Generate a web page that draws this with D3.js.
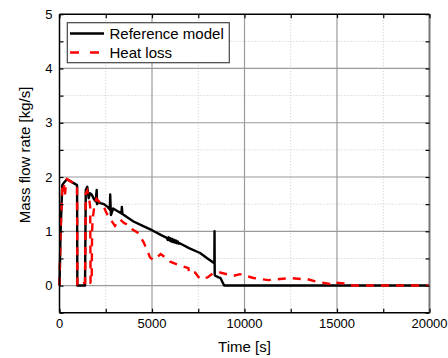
<!DOCTYPE html>
<html>
<head>
<meta charset="utf-8">
<script src="https://cdn.jsdelivr.net/npm/d3@7"></script>
<style>
    body { margin: 0; background: #fff; }
    svg { display: block; font-family: Arial, "Liberation Sans", Helvetica, sans-serif; }
    .tick-label { font-size: 13px; fill: #000; }
    .axis-title { font-size: 15px; fill: #000; }
    .legend-text { font-size: 15px; fill: #000; }
</style>
</head>
<body>
<svg id="chart"></svg>
<script>
// Reference model series (time in s, mass flow in kg/s)
const refTime = [0, 60, 150, 250, 400, 600, 950, 965, 1380, 1420, 1500, 1580, 1650, 1740, 1850, 1950, 2010, 2030, 2100, 2200, 2400, 2600,
    2720, 2740, 2780, 2900, 3100, 3350, 3370, 3400, 3700, 4000, 4500, 5000, 5500, 5800, 5850, 5900, 5950, 6000, 6050, 6100, 6150, 6200,
    6250, 6300, 6350, 6400, 6450, 6500, 7000, 7600, 8000, 8370, 8380, 8390, 8420, 8600, 8700, 8900, 20000];
const refFlow = [0, 1.0, 1.85, 1.9, 1.96, 1.92, 1.85, 0, 0, 1.76, 1.82, 1.61, 1.7, 1.68, 1.6, 1.55, 1.76, 1.5, 1.55, 1.52, 1.5, 1.45,
    1.4, 1.68, 1.3, 1.42, 1.38, 1.33, 1.45, 1.32, 1.25, 1.18, 1.1, 1.02, 0.93, 0.88, 0.84, 0.89, 0.83, 0.87, 0.81, 0.86, 0.8, 0.84,
    0.79, 0.83, 0.78, 0.81, 0.77, 0.78, 0.69, 0.6, 0.5, 0.41, 1.0, 0.2, 0.18, 0.15, 0.14, 0.0, 0];

// Heat loss series
const heatTime = [0, 60, 150, 200, 250, 300, 350, 400, 600, 950, 965, 1000, 1380, 1420, 1500, 1600, 1660, 1680, 1740, 1760, 1800, 1900,
    2000, 2200, 2400, 2550, 2800, 3000, 3270, 3500, 3720, 3810, 4210, 4530, 4800, 4890, 5070, 5260, 5470, 5800, 5980, 6430, 6970, 7000,
    7330, 7600, 8000, 8320, 8680, 9400, 9760, 10480, 11290, 11920, 12470, 13100, 13370, 13910, 14630, 14720, 15350, 15600, 20000];
const heatFlow = [0, 1.0, 1.8, 1.7, 1.85, 1.68, 1.9, 1.96, 1.92, 1.85, 0, 0.03, 0.05, 1.7, 1.75, 1.6, 1.45, 0.05, 0.05, 1.0, 1.25, 1.5,
    1.6, 1.52, 1.45, 1.33, 1.2, 1.1, 1.22, 1.15, 1.12, 1.06, 0.98, 0.81, 0.6, 0.52, 0.47, 0.52, 0.58, 0.5, 0.44, 0.38, 0.32, 0.23,
    0.24, 0.12, 0.15, 0.23, 0.24, 0.18, 0.21, 0.14, 0.1, 0.12, 0.14, 0.12, 0.12, 0.07, 0.03, 0.06, 0.04, 0, 0];

const xTicks = [0, 5000, 10000, 15000, 20000];
const yTicks = [0, 1, 2, 3, 4, 5];
const seriesNames = ['Reference model', 'Heat loss'];

const width = 448, height = 358;
const plot = {left: 59.5, right: 429.5, top: 14.2, bottom: 312.7};

const svg = d3.select('#chart')
    .attr('width', width)
    .attr('height', height);

const xScale = d3.scaleLinear().domain([0, 20000]).range([plot.left, plot.right]);
const yScale = d3.scaleLinear().domain([-0.5, 5]).range([plot.bottom, plot.top]);

// minor (dotted) and major (solid) grid
const xMinor = d3.range(2500, 20000, 5000);
const yMinor = d3.range(-0.5, 5, 1).filter(d => d > -0.5);

svg.append('g').selectAll('line').data(xMinor).join('line')
    .attr('x1', d => xScale(d)).attr('x2', d => xScale(d))
    .attr('y1', plot.top).attr('y2', plot.bottom)
    .attr('stroke', '#c8c8c8').attr('stroke-width', 1).attr('stroke-dasharray', '1,2');
svg.append('g').selectAll('line').data(yMinor).join('line')
    .attr('x1', plot.left).attr('x2', plot.right)
    .attr('y1', d => yScale(d)).attr('y2', d => yScale(d))
    .attr('stroke', '#c8c8c8').attr('stroke-width', 1).attr('stroke-dasharray', '1,2');

svg.append('g').selectAll('line').data(xTicks.slice(1, -1)).join('line')
    .attr('x1', d => xScale(d)).attr('x2', d => xScale(d))
    .attr('y1', plot.top).attr('y2', plot.bottom)
    .attr('stroke', '#9a9a9a').attr('stroke-width', 1.2);
svg.append('g').selectAll('line').data(yTicks.slice(0, -1)).join('line')
    .attr('x1', plot.left).attr('x2', plot.right)
    .attr('y1', d => yScale(d)).attr('y2', d => yScale(d))
    .attr('stroke', '#9a9a9a').attr('stroke-width', 1.2);

// data lines
const line = d3.line()
    .x(d => xScale(d[0]))
    .y(d => yScale(d[1]));

svg.append('path')
    .datum(d3.zip(refTime, refFlow))
    .attr('fill', 'none')
    .attr('stroke', '#000')
    .attr('stroke-width', 2.4)
    .attr('stroke-linejoin', 'round')
    .attr('d', line);

svg.append('path')
    .datum(d3.zip(heatTime, heatFlow))
    .attr('fill', 'none')
    .attr('stroke', '#ff0000')
    .attr('stroke-width', 2.4)
    .attr('stroke-dasharray', '8,7')
    .attr('d', line);

// frame
svg.append('line').attr('x1', plot.right).attr('x2', plot.right).attr('y1', plot.top).attr('y2', plot.bottom)
    .attr('stroke', '#777').attr('stroke-width', 2);
svg.append('line').attr('x1', plot.left).attr('x2', plot.right).attr('y1', plot.top).attr('y2', plot.top)
    .attr('stroke', '#000').attr('stroke-width', 1.5);

// axes with inward ticks
const allX = d3.range(0, 20001, 2500);
const allY = d3.range(-0.5, 5.01, 0.5);

const xAxisG = svg.append('g')
    .attr('transform', `translate(0,${plot.bottom})`)
    .call(d3.axisBottom(xScale).tickValues(allX).tickSize(-4).tickSizeOuter(0).tickFormat(''));
const xTopG = svg.append('g')
    .attr('transform', `translate(0,${plot.top})`)
    .call(d3.axisTop(xScale).tickValues(allX).tickSize(-4).tickSizeOuter(0).tickFormat(''));
const yAxisG = svg.append('g')
    .attr('transform', `translate(${plot.left},0)`)
    .call(d3.axisLeft(yScale).tickValues(allY).tickSize(-4).tickSizeOuter(0).tickFormat(''));
const yRightG = svg.append('g')
    .attr('transform', `translate(${plot.right},0)`)
    .call(d3.axisRight(yScale).tickValues(allY).tickSize(-4).tickSizeOuter(0).tickFormat(''));

[xAxisG, xTopG, yAxisG, yRightG].forEach(g => {
    g.selectAll('.tick line').attr('stroke', '#000').attr('stroke-width', 1.2);
    g.select('.domain').remove();
});
svg.append('line').attr('x1', plot.left).attr('x2', plot.left).attr('y1', plot.top).attr('y2', plot.bottom)
    .attr('stroke', '#000').attr('stroke-width', 1.5);
svg.append('line').attr('x1', plot.left).attr('x2', plot.right).attr('y1', plot.bottom).attr('y2', plot.bottom)
    .attr('stroke', '#000').attr('stroke-width', 1.5);

// tick labels
svg.append('g').selectAll('text').data(xTicks).join('text')
    .attr('class', 'tick-label')
    .attr('x', d => xScale(d))
    .attr('y', 328)
    .attr('text-anchor', 'middle')
    .text(d => d);
svg.append('g').selectAll('text').data(yTicks).join('text')
    .attr('class', 'tick-label')
    .attr('x', 52.5)
    .attr('y', d => yScale(d))
    .attr('dy', '0.35em')
    .attr('text-anchor', 'end')
    .text(d => d);

// axis titles
svg.append('text')
    .attr('class', 'axis-title')
    .attr('x', (plot.left + plot.right) / 2)
    .attr('y', 352)
    .attr('text-anchor', 'middle')
    .text('Time [s]');
svg.append('text')
    .attr('class', 'axis-title')
    .attr('transform', `translate(30,155) rotate(-90)`)
    .attr('text-anchor', 'middle')
    .text('Mass flow rate [kg/s]');

// legend
const legend = svg.append('g');
legend.append('rect')
    .attr('x', 67.3).attr('y', 22.7)
    .attr('width', 162).attr('height', 40)
    .attr('fill', '#fff')
    .attr('stroke', '#444').attr('stroke-width', 1.2);

const legendRows = legend.selectAll('g.row').data(seriesNames).join('g')
    .attr('class', 'row')
    .attr('transform', (d, i) => `translate(0,${33.5 + i * 19})`);
legendRows.append('line')
    .attr('x1', 70).attr('x2', 104)
    .attr('stroke', (d, i) => i === 0 ? '#000' : '#ff0000')
    .attr('stroke-width', 2.4)
    .attr('stroke-dasharray', (d, i) => i === 0 ? null : '9,11');
legendRows.append('text')
    .attr('class', 'legend-text')
    .attr('x', 109.5)
    .attr('y', 5.5)
    .text(d => d);
</script>
</body>
</html>
